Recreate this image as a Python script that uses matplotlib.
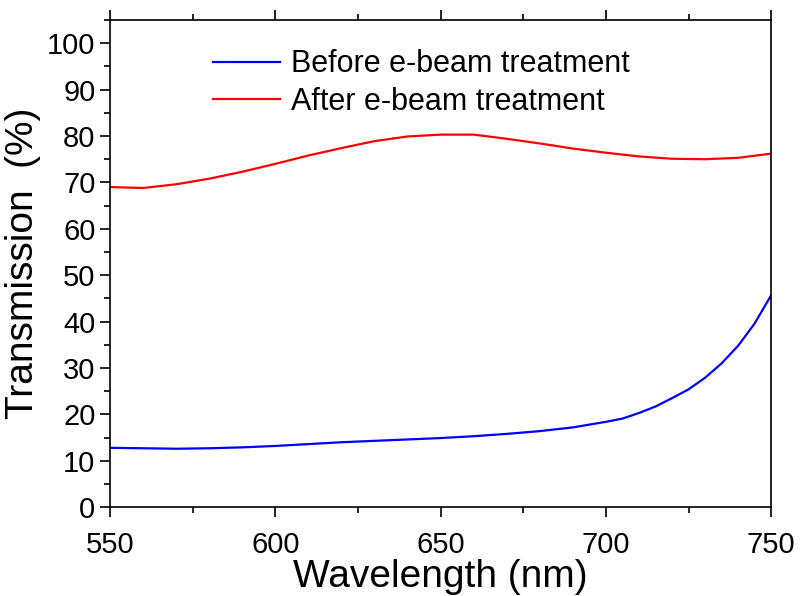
import matplotlib
matplotlib.use("Agg")
import matplotlib.pyplot as plt
from matplotlib.ticker import MultipleLocator

plt.rcParams['font.family'] = ['Liberation Sans', 'DejaVu Sans']

# wavelength (nm) and transmission (%)
wl_before = [550, 560, 570, 580, 590, 600, 610, 620, 630, 640, 650, 660, 670,
             680, 690, 700, 705, 710, 715, 720, 725, 730, 735, 740, 745, 750]
t_before = [12.8, 12.7, 12.6, 12.7, 12.9, 13.2, 13.6, 14.0, 14.3, 14.6, 14.9,
            15.3, 15.8, 16.4, 17.2, 18.4, 19.1, 20.3, 21.7, 23.5, 25.4, 27.9,
            31.0, 34.8, 39.6, 45.7]

wl_after = [550, 560, 570, 580, 590, 600, 610, 620, 630, 640, 650, 660, 670,
            680, 690, 700, 710, 720, 730, 740, 750]
t_after = [69.0, 68.8, 69.6, 70.8, 72.3, 74.0, 75.8, 77.4, 78.9, 79.9, 80.3,
           80.3, 79.4, 78.4, 77.3, 76.4, 75.6, 75.1, 75.0, 75.3, 76.2]

labels = ["Before e-beam treatment", "After e-beam treatment"]

fig = plt.figure(figsize=(8, 5.96), dpi=100)
ax = fig.add_axes([0.1375, 0.149, 0.8265, 0.8174])

ax.plot(wl_before, t_before, color='#0000ff', lw=1.6, label=labels[0])
ax.plot(wl_after, t_after, color='#ff0000', lw=1.6, label=labels[1])

ax.set_xlim(550, 750)
ax.set_ylim(0, 105)
ax.xaxis.set_major_locator(MultipleLocator(50))
ax.xaxis.set_minor_locator(MultipleLocator(25))
ax.yaxis.set_major_locator(MultipleLocator(10))
ax.yaxis.set_minor_locator(MultipleLocator(5))

ax.tick_params(which='both', direction='out', top=True, right=False, width=1.2)
ax.tick_params(which='major', length=7, labelsize=21)
ax.tick_params(which='minor', length=4)
ax.tick_params(axis='x', pad=10)
for s in ax.spines.values():
    s.set_linewidth(1.2)

ax.set_xlabel("Wavelength (nm)", fontsize=28, labelpad=0)
ax.set_ylabel("Transmission  (%)", fontsize=28, labelpad=4)

ax.legend(loc='upper left', bbox_to_anchor=(0.137, 0.965), frameon=False,
          fontsize=22, handlelength=2.2, handletextpad=0.35, labelspacing=0.25,
          borderaxespad=0)

fig.savefig("out.png", dpi=100)
